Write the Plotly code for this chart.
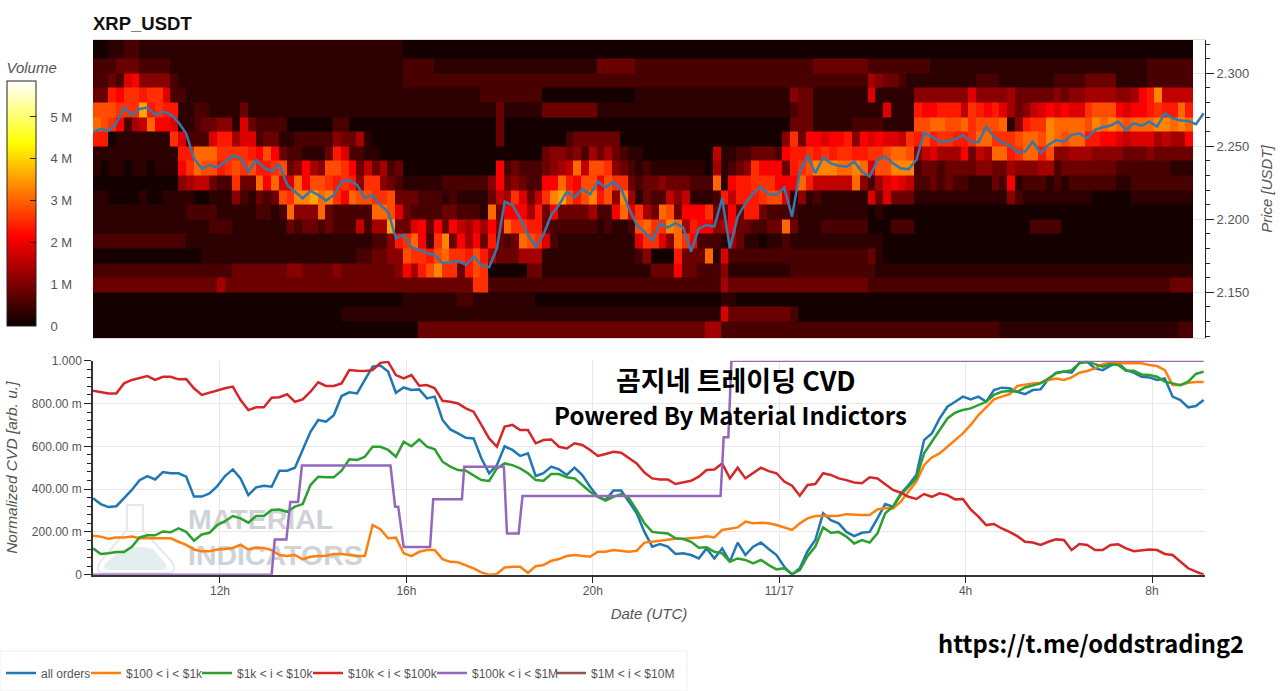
import pandas as pd
import plotly.graph_objects as go

W, H = 1280, 691
START = pd.Timestamp("2025-11-16 09:16:30")
END = pd.Timestamp("2025-11-17 09:08:12")
HEAT_END = pd.Timestamp("2025-11-17 08:52:50")

LEVEL_VOLUMES = [0.1e6, 0.3e6, 0.55e6, 0.85e6, 1.1e6, 1.35e6, 1.6e6, 1.85e6, 2.1e6,
                 2.35e6, 2.55e6, 2.8e6, 3.05e6, 3.3e6, 3.6e6, 3.85e6]

price_edges = [2.118, 2.13, 2.14, 2.15, 2.16, 2.17, 2.18, 2.19, 2.20, 2.21, 2.22,
               2.23, 2.24, 2.25, 2.26, 2.27, 2.28, 2.29, 2.30, 2.31, 2.33]

# volume per price bucket, top row first, one hex level per time column
vol_r00 = "0011221111 1111111111 1111111111 1111111111 0000000000 0000000000 0000000000 0000000000 0000000000 0000000000 0000000000 0000000000 0000000000 0000000000 00"
vol_r01 = "2223332222 1111111111 1111111111 1111111111 2222111111 1111111111 1111133333 2222222222 2222222222 2223333333 2222222211 1111111111 1111111111 1111112222 22"
vol_r02 = "2232784444 2111111111 1111111111 1111111111 2222222222 2222222222 2222222222 2222222222 2222222222 2222222222 5433211111 1111222111 1111222233 3311112222 22"
vol_r03 = "3398aa9aa7 2211111111 1111111111 1111111111 1111111111 2222222200 0000000000 1111111111 1111111111 4331111111 7111114444 4447444453 3333434455 5544589d66 66"
vol_r04 = "bbbaaae9a9 9112211113 1111111111 1111111111 1111111111 1131111133 3333311111 1111111111 1111111111 2331111111 1171119889 996a989753 46787877ab bb87889a99 c9"
vol_r05 = "cba8256c88 7112334417 3222200000 0220000000 0000000000 0030000000 0000000000 0000000000 0000000000 3331111122 221111bbcc bbcabbbc14 9aadccccbd cdcbcccddc dc"
vol_r06 = "9901111111 a722279957 7233112222 2433510000 0000000000 0030000000 0233333300 0000000000 0000000004 a388788948 78776a9b9a a99accaaab ccbdcbcc99 8876777565 58"
vol_r07 = "1111111111 199cccaaaa 98b8322111 3972211000 0000000000 0000000034 4342535321 1000000000 6112233328 99a9a9aa99 aabccb4675 558365cc9a cc9b445554 4443334333 33"
vol_r08 = "1011011011 18acbb9aba b99ab34854 bba8363523 0000000000 0082322234 56c6bba432 1211111110 51234a8883 9abdddccdc 7bbddd2332 3333443354 4455233333 3322222221 11"
vol_r09 = "0000000000 04566322a3 3c8c77c8bb a9a94aa432 1111122222 2483432288 c98bb8baa3 2334333222 c1899aaa88 8c966666c4 2578762232 3221113281 2221212222 2211222222 22"
vol_r10 = "1100001001 1110011142 1323baddec da8cbbaab3 3322212111 1365a736ad eb9bd9b4d5 1322646111 296999abb7 1412111111 7373331111 1111111142 1111111110 0000111111 11"
vol_r11 = "1111111111 1122221111 12212c444c 322222ccb7 3222233222 1c38885938 33335228c7 a53cb3888a 3383993222 2111111111 0100000000 0000000000 0000000000 0000000000 00"
vol_r12 = "1111111111 1111122211 1111132332 32226255e3 3783838657 584caa9932 2222212112 bcaadc5988 458332233c 3111222222 0002220000 0000000000 0222200000 0000000000 00"
vol_r13 = "2222222222 2211111111 1111111111 1111112249 ac82ad3858 39323cba72 1111111111 7aa74ca822 2153110112 1111111111 1100000000 0000000000 0000000000 0000000000 00"
vol_r14 = "0000000000 0000111111 1111111111 1111223344 baa9bcaa9b 9533355511 1111111111 240009333c 1722222222 2222222222 3100000000 0000000000 0000000000 0000000000 00"
vol_r15 = "2222222222 2222222233 3333344333 3433333334 859bdaa39b a000003311 1111111111 1133383322 2411111111 2222222222 2111111111 1111111111 1111111111 1111111111 11"
vol_r16 = "3333333333 3333335333 3333333333 3333333333 333333333a a222222222 2222222222 2222222222 2533333333 3333333333 2222222222 2222222222 2222222222 2222222223 33"
vol_r17 = "0000000000 0000000000 0000000000 0000000000 1111111221 1111111000 0000000000 0000000000 0110000000 0000000000 0000000000 0000000000 0000000000 0000000000 00"
vol_r18 = "0000000000 0000000000 0000000000 0011111111 1111111111 1111111111 1111111111 1111111111 1733333333 2000000000 0000000000 0000000000 0000000000 0000000000 00"
vol_r19 = "0000000000 0000000000 0000000000 0000000000 0033333333 3333333333 3333333333 3333333335 5222222222 2222222222 2222222222 2222222111 1111111111 1111111111 22"

price = [2.2596,2.2619,2.2605,2.2658,2.2765,2.2715,2.2756,2.2765,2.2715,2.2737,
         2.2719,2.2664,2.2587,2.2418,2.2345,2.2372,2.2354,2.2395,2.2436,2.2418,
         2.2327,2.2406,2.2354,2.2331,2.2372,2.2235,2.2189,2.2144,2.2194,2.2167,
         2.2128,2.2167,2.2258,2.2269,2.2235,2.2144,2.2167,2.2098,2.2052,2.1870,
         2.1893,2.1808,2.1790,2.1767,2.1756,2.1699,2.1705,2.1715,2.1687,2.1744,
         2.1687,2.1671,2.1801,2.2121,2.2098,2.2007,2.1893,2.1813,2.1897,2.2030,
         2.2098,2.2189,2.2151,2.2208,2.2171,2.2258,2.2217,2.2258,2.2208,2.2075,
         2.1961,2.1916,2.1854,2.1973,2.1943,2.1973,2.1943,2.1778,2.1938,2.1961,
         2.1950,2.2144,2.1801,2.2018,2.2110,2.2178,2.2224,2.2171,2.2167,2.2217,
         2.2018,2.2326,2.2436,2.2315,2.2422,2.2383,2.2367,2.2360,2.2395,2.2327,
         2.2292,2.2406,2.2429,2.2383,2.2349,2.2342,2.2406,2.2593,2.2566,2.2532,
         2.2532,2.2550,2.2578,2.2532,2.2527,2.2635,2.2566,2.2527,2.2509,2.2459,
         2.2464,2.2532,2.2452,2.2509,2.2543,2.2532,2.2578,2.2589,2.2555,2.2612,
         2.2630,2.2642,2.2669,2.2612,2.2658,2.2642,2.2669,2.2635,2.2726,2.2692,
         2.2676,2.2674,2.2651,2.2726]

cvd_all = [.357,.33,.316,.32,.358,.396,.442,.461,.445,.48,
           .474,.474,.458,.365,.365,.38,.414,.461,.492,.45,
           .372,.408,.416,.411,.486,.486,.50,.583,.668,.723,
           .715,.745,.835,.852,.847,.91,.972,.977,.949,.85,
           .875,.863,.866,.824,.832,.723,.679,.66,.64,.637,
           .544,.474,.512,.60,.583,.555,.567,.461,.474,.505,
           .492,.466,.50,.466,.411,.364,.349,.393,.393,.341,
           .287,.20,.131,.143,.131,.097,.10,.092,.076,.123,
           .076,.123,.061,.15,.092,.131,.15,.12,.092,.037,
           0,.03,.11,.162,.287,.255,.24,.20,.18,.196,
           .20,.263,.33,.318,.38,.419,.466,.629,.66,.73,
           .785,.808,.832,.819,.832,.808,.863,.874,.871,.855,
           .844,.863,.866,.913,.944,.949,.944,.99,.995,.964,
           .956,.977,.99,.956,.944,.925,.922,.91,.917,.832,
           .816,.782,.788,.816]

cvd_100_1k = [.182,.178,.168,.174,.174,.178,.17,.17,.17,.171,
              .17,.154,.139,.118,.11,.11,.118,.12,.125,.14,
              .118,.126,.125,.115,.092,.087,.092,.072,.084,.087,
              .089,.097,.097,.092,.087,.087,.232,.213,.17,.173,
              .10,.087,.107,.115,.115,.073,.06,.058,.045,.03,
              .011,0,.003,.034,.037,.037,.009,.04,.045,.065,
              .073,.087,.092,.087,.084,.107,.107,.115,.11,.107,
              .112,.15,.154,.159,.165,.168,.168,.17,.174,.18,
              .174,.209,.216,.221,.248,.24,.243,.24,.232,.221,
              .209,.24,.263,.274,.276,.274,.276,.283,.28,.279,
              .279,.305,.312,.31,.341,.388,.435,.512,.548,.567,
              .598,.626,.66,.70,.746,.782,.819,.832,.843,.882,
              .889,.894,.897,.91,.917,.91,.922,.944,.952,.964,
              .984,.99,.988,.988,.988,.988,.98,.975,.956,.886,
              .886,.897,.90,.90]

cvd_1k_10k = [.123,.097,.10,.106,.106,.13,.174,.184,.184,.202,
              .198,.216,.20,.159,.188,.196,.232,.25,.274,.263,
              .243,.274,.274,.302,.305,.294,.318,.33,.419,.458,
              .455,.455,.486,.539,.536,.551,.598,.598,.583,.551,
              .621,.60,.632,.598,.586,.528,.505,.489,.486,.466,
              .442,.438,.497,.52,.512,.497,.474,.442,.439,.47,
              .47,.455,.45,.419,.388,.364,.346,.364,.377,.357,
              .302,.24,.20,.196,.193,.17,.167,.154,.126,.128,
              .107,.10,.061,.076,.069,.053,.069,.045,.025,.03,
              .003,.022,.087,.131,.221,.196,.20,.178,.146,.162,
              .15,.193,.287,.318,.372,.411,.45,.567,.621,.676,
              .73,.757,.77,.777,.793,.808,.84,.855,.858,.855,
              .875,.886,.894,.917,.941,.949,.956,.988,.995,.984,
              .972,.984,.98,.953,.953,.936,.933,.925,.902,.894,
              .886,.902,.938,.949]

cvd_10k_100k = [.86,.855,.847,.847,.894,.91,.92,.928,.91,.925,
                .925,.913,.914,.871,.84,.85,.863,.871,.879,.816,
                .769,.782,.782,.827,.829,.843,.808,.819,.855,.899,
                .882,.882,.894,.956,.953,.952,.956,.99,.995,.933,
                .917,.933,.883,.886,.871,.813,.808,.80,.777,.762,
                .70,.637,.598,.692,.70,.676,.676,.614,.629,.632,
                .598,.59,.614,.606,.583,.555,.564,.574,.57,.544,
                .52,.477,.45,.445,.445,.424,.43,.439,.458,.489,
                .492,.52,.45,.50,.45,.474,.50,.484,.474,.435,
                .416,.369,.419,.424,.474,.466,.45,.442,.431,.427,
                .455,.45,.422,.396,.383,.364,.354,.377,.364,.38,
                .372,.352,.354,.305,.271,.232,.237,.216,.20,.18,
                .154,.15,.139,.154,.165,.162,.115,.143,.139,.115,
                .115,.139,.142,.123,.11,.115,.118,.115,.097,.092,
                .061,.03,.014,0]

purple_minutes = [0, 230, 234, 249, 254, 264, 269, 383, 389, 393, 400, 434, 438, 475, 478,
                  529, 533, 548, 553, 808, 812, 818, 822, 1430]
cvd_100k_1m = [0, 0, .165, .165, .34, .34, .51, .51, .318, .318, .13, .13, .352, .352, .505,
               .505, .193, .193, .368, .368, .642, .642, 1, 1]

series_names = ["all orders", "$100 < i < $1k", "$1k < i < $10k", "$10k < i < $100k",
                "$100k < i < $1M", "$1M < i < $10M"]
series_colors = ["#1f77b4", "#ff7f0e", "#2ca02c", "#d62728", "#9467bd", "#8c564b"]

tick_times = ["2025-11-16 12:00", "2025-11-16 16:00", "2025-11-16 20:00",
              "2025-11-17 00:00", "2025-11-17 04:00", "2025-11-17 08:00"]
tick_labels = ["12h", "16h", "20h", "11/17", "4h", "8h"]
cvd_ticks = [0, .2, .4, .6, .8, 1]
cvd_labels = ["0", "200.00 m", "400.00 m", "600.00 m", "800.00 m", "1.000"]
vol_ticks = [0, 1e6, 2e6, 3e6, 4e6, 5e6]
vol_labels = ["\u00a0\u00a0\u00a00", "\u00a0\u00a0\u00a01 M", "\u00a0\u00a0\u00a02 M",
              "\u00a0\u00a0\u00a03 M", "\u00a0\u00a0\u00a04 M", "\u00a0\u00a0\u00a05 M"]
legend_left_px = [1, 86, 197, 308, 432, 551]

rows_top_down = [vol_r00, vol_r01, vol_r02, vol_r03, vol_r04, vol_r05, vol_r06, vol_r07, vol_r08, vol_r09,
                 vol_r10, vol_r11, vol_r12, vol_r13, vol_r14, vol_r15, vol_r16, vol_r17, vol_r18, vol_r19]


def decode(row):
    s = row.replace(" ", "")
    s = s.ljust(142, s[-1])[:142]
    return [LEVEL_VOLUMES[int(c, 16)] for c in s]


z = [decode(r) for r in reversed(rows_top_down)]
heat_edges = pd.date_range(START, HEAT_END, periods=143)
t10 = pd.date_range(START, periods=144, freq="10min")
t_purple = [START + pd.Timedelta(minutes=m) for m in purple_minutes]

GREY = "#555555"
BASE = "Liberation Sans, Arial, sans-serif"
NARROW = "Liberation Sans Narrow, Liberation Sans, sans-serif"
hot = [[0, "#0a0000"], [0.365, "#ff0000"], [0.746, "#ffff00"], [1, "#ffffff"]]

fig = go.Figure()
fig.add_trace(go.Heatmap(
    x=heat_edges, y=price_edges, z=z, colorscale=hot, zmin=0, zmax=5.86e6,
    xaxis="x", yaxis="y", zsmooth=False, hoverinfo="skip",
    colorbar=dict(
        x=7 / W, xanchor="left", xref="paper", xpad=0, ypad=0,
        y=1 - 192.5 / H, yanchor="middle", yref="paper",
        thickness=29, thicknessmode="pixels", len=267, lenmode="pixels",
        outlinecolor="#222222", outlinewidth=1, bgcolor="rgba(0,0,0,0)",
        tickmode="array", tickvals=vol_ticks, ticktext=vol_labels,
        ticks="inside", ticklen=6, tickcolor="#222222",
        tickfont=dict(family=BASE, size=13, color=GREY),
        title=dict(text="Volume", side="top", font=dict(family=BASE, size=15, color=GREY, style="italic")),
    ),
))
fig.add_trace(go.Scatter(x=t10, y=price, mode="lines", line=dict(color="#3579ab", width=2.5),
                         xaxis="x", yaxis="y", showlegend=False, hoverinfo="skip"))

# watermark, behind the CVD lines
fig.add_trace(go.Scatter(
    x=[pd.Timestamp("2025-11-16 11:18:50")] * 2, y=[.246, .078], mode="text",
    text=["<b>MATERIAL</b>", "<b>INDICATORS</b>"], textposition="middle right",
    textfont=dict(family=NARROW, size=28.5, color="#cfd3d8"),
    xaxis="x2", yaxis="y2", showlegend=False, hoverinfo="skip", cliponaxis=False))

for i, (name, color, xs, ys) in enumerate([
    (series_names[0], series_colors[0], t10, cvd_all),
    (series_names[1], series_colors[1], t10, cvd_100_1k),
    (series_names[2], series_colors[2], t10, cvd_1k_10k),
    (series_names[3], series_colors[3], t10, cvd_10k_100k),
    (series_names[4], series_colors[4], t_purple, cvd_100k_1m),
    (series_names[5], series_colors[5], t10[:2], [None, None]),
]):
    fig.add_trace(go.Scatter(x=xs, y=ys, mode="lines", name=name, line=dict(color=color, width=2.5),
                             xaxis="x2", yaxis="y2", hoverinfo="skip",
                             legend="legend" if i == 0 else f"legend{i + 1}"))


def px(x, y):
    return f"{x / W:.5f},{1 - y / H:.5f}"


flask_outline = ("M" + px(127, 505) + " L" + px(143, 505) + " L" + px(143, 530) + " L" + px(172, 562)
                 + " Q" + px(178, 572) + " " + px(168, 573) + " L" + px(104, 573)
                 + " Q" + px(94, 572) + " " + px(100, 562) + " L" + px(127, 530) + " Z")
flask_liquid = ("M" + px(120, 550) + " Q" + px(138, 544) + " " + px(153, 549) + " L" + px(166, 564)
                + " Q" + px(168, 569) + " " + px(162, 570) + " L" + px(109, 570)
                + " Q" + px(102, 569) + " " + px(105, 564) + " Z")

layout_shapes = [
    dict(type="path", path=flask_outline, xref="paper", yref="paper", layer="below",
         line=dict(color="#e6e9e9", width=2), fillcolor="rgba(255,255,255,0)"),
    dict(type="path", path=flask_liquid, xref="paper", yref="paper", layer="below",
         line=dict(width=0), fillcolor="#e4eeee"),
    dict(type="rect", x0=0, x1=687 / W, y0=0, y1=1 - 651 / H, xref="paper", yref="paper", layer="below",
         line=dict(color="#eeeeee", width=1), fillcolor="white"),
]

annotations = [
    dict(text="<b>곰지네 트레이딩 CVD</b>", x=614 / W, y=1 - 379 / H, font=dict(family="Noto Sans CJK KR", size=27, color="#000000")),
    dict(text="<b>Powered By Material Indictors</b>", x=552 / W, y=1 - 414 / H, font=dict(family="Noto Sans CJK KR", size=24, color="#000000")),
    dict(text="<b>https://t.me/oddstrading2</b>", x=936 / W, y=1 - 643 / H, font=dict(family="Noto Sans CJK KR", size=23.7, color="#000000")),
]
for a in annotations:
    a.update(xref="paper", yref="paper", xanchor="left", yanchor="middle", showarrow=False)

layout_legends = {}
for i, left in enumerate(legend_left_px):
    key = "legend" if i == 0 else f"legend{i + 1}"
    layout_legends[key] = dict(
        orientation="h", x=left / W, xanchor="left", y=1 - 673 / H, yanchor="middle",
        xref="paper", yref="paper", bgcolor="rgba(0,0,0,0)", borderwidth=0,
        font=dict(family=BASE, size=12, color=GREY), itemwidth=30)

fig.update_layout(
    width=W, height=H, autosize=False,
    margin=dict(l=0, r=0, t=0, b=0, pad=0, autoexpand=False),
    paper_bgcolor="white", plot_bgcolor="white",
    font=dict(family=BASE, size=12, color=GREY),
    title=dict(text="<b>XRP_USDT</b>", x=93 / W, xanchor="left", xref="paper", y=1 - 24 / H, yanchor="middle", yref="container",
               font=dict(family=BASE, size=18.5, color="#111111")),
    shapes=layout_shapes, annotations=annotations,
    xaxis=dict(domain=[93 / W, 1205 / W], anchor="y", type="date", range=[START, END],
               showticklabels=False, ticks="", showgrid=False, showline=True, linecolor="#dddddd", mirror=True, zeroline=False),
    yaxis=dict(domain=[1 - 338 / H, 1 - 40 / H], anchor="x", side="right", range=[2.1187, 2.3228],
               tickmode="array", tickvals=[2.15, 2.20, 2.25, 2.30], ticktext=["2.150", "2.200", "2.250", "2.300"],
               ticks="outside", ticklen=8, tickcolor="#222222", showline=True, linecolor="#222222", linewidth=1,
               showgrid=True, gridcolor="#e8e8e8", zeroline=False,
               minor=dict(tickmode="linear", tick0=2.11, dtick=0.01, ticks="outside", ticklen=4, tickcolor="#222222", showgrid=False),
               tickfont=dict(family=BASE, size=13, color=GREY),
               title=dict(text="Price [USDT]", standoff=13, font=dict(family=BASE, size=15, color=GREY, style="italic"))),
    xaxis2=dict(domain=[93 / W, 1205 / W], anchor="y2", type="date", range=[START, END],
                tickmode="array", tickvals=tick_times, ticktext=tick_labels,
                ticks="outside", ticklen=7, tickcolor="#222222", showline=True, linecolor="#333333", linewidth=1.5,
                showgrid=True, gridcolor="#e8e8e8", zeroline=False, ticklabelstandoff=-3,
                tickfont=dict(family=BASE, size=12, color=GREY),
                title=dict(text="Date (UTC)", standoff=12, font=dict(family=BASE, size=15, color=GREY, style="italic"))),
    yaxis2=dict(domain=[1 - 574.7 / H, 1 - 360.7 / H], anchor="x2", range=[0, 1],
                tickmode="array", tickvals=cvd_ticks, ticktext=cvd_labels,
                ticks="outside", ticklen=7, tickcolor="#222222", showline=True, linecolor="#333333", linewidth=1.5,
                showgrid=True, gridcolor="#e8e8e8", zeroline=False,
                minor=dict(tickmode="linear", tick0=0, dtick=0.04, ticks="outside", ticklen=4, tickcolor="#222222", showgrid=False),
                tickfont=dict(family=BASE, size=12, color=GREY),
                title=dict(text="Normalized CVD [arb. u.]", standoff=10, font=dict(family=BASE, size=15.5, color=GREY, style="italic"))),
    **layout_legends,
)

fig.write_html("out.html", config={"displayModeBar": False},
               post_script="document.body.style.margin='0';")
